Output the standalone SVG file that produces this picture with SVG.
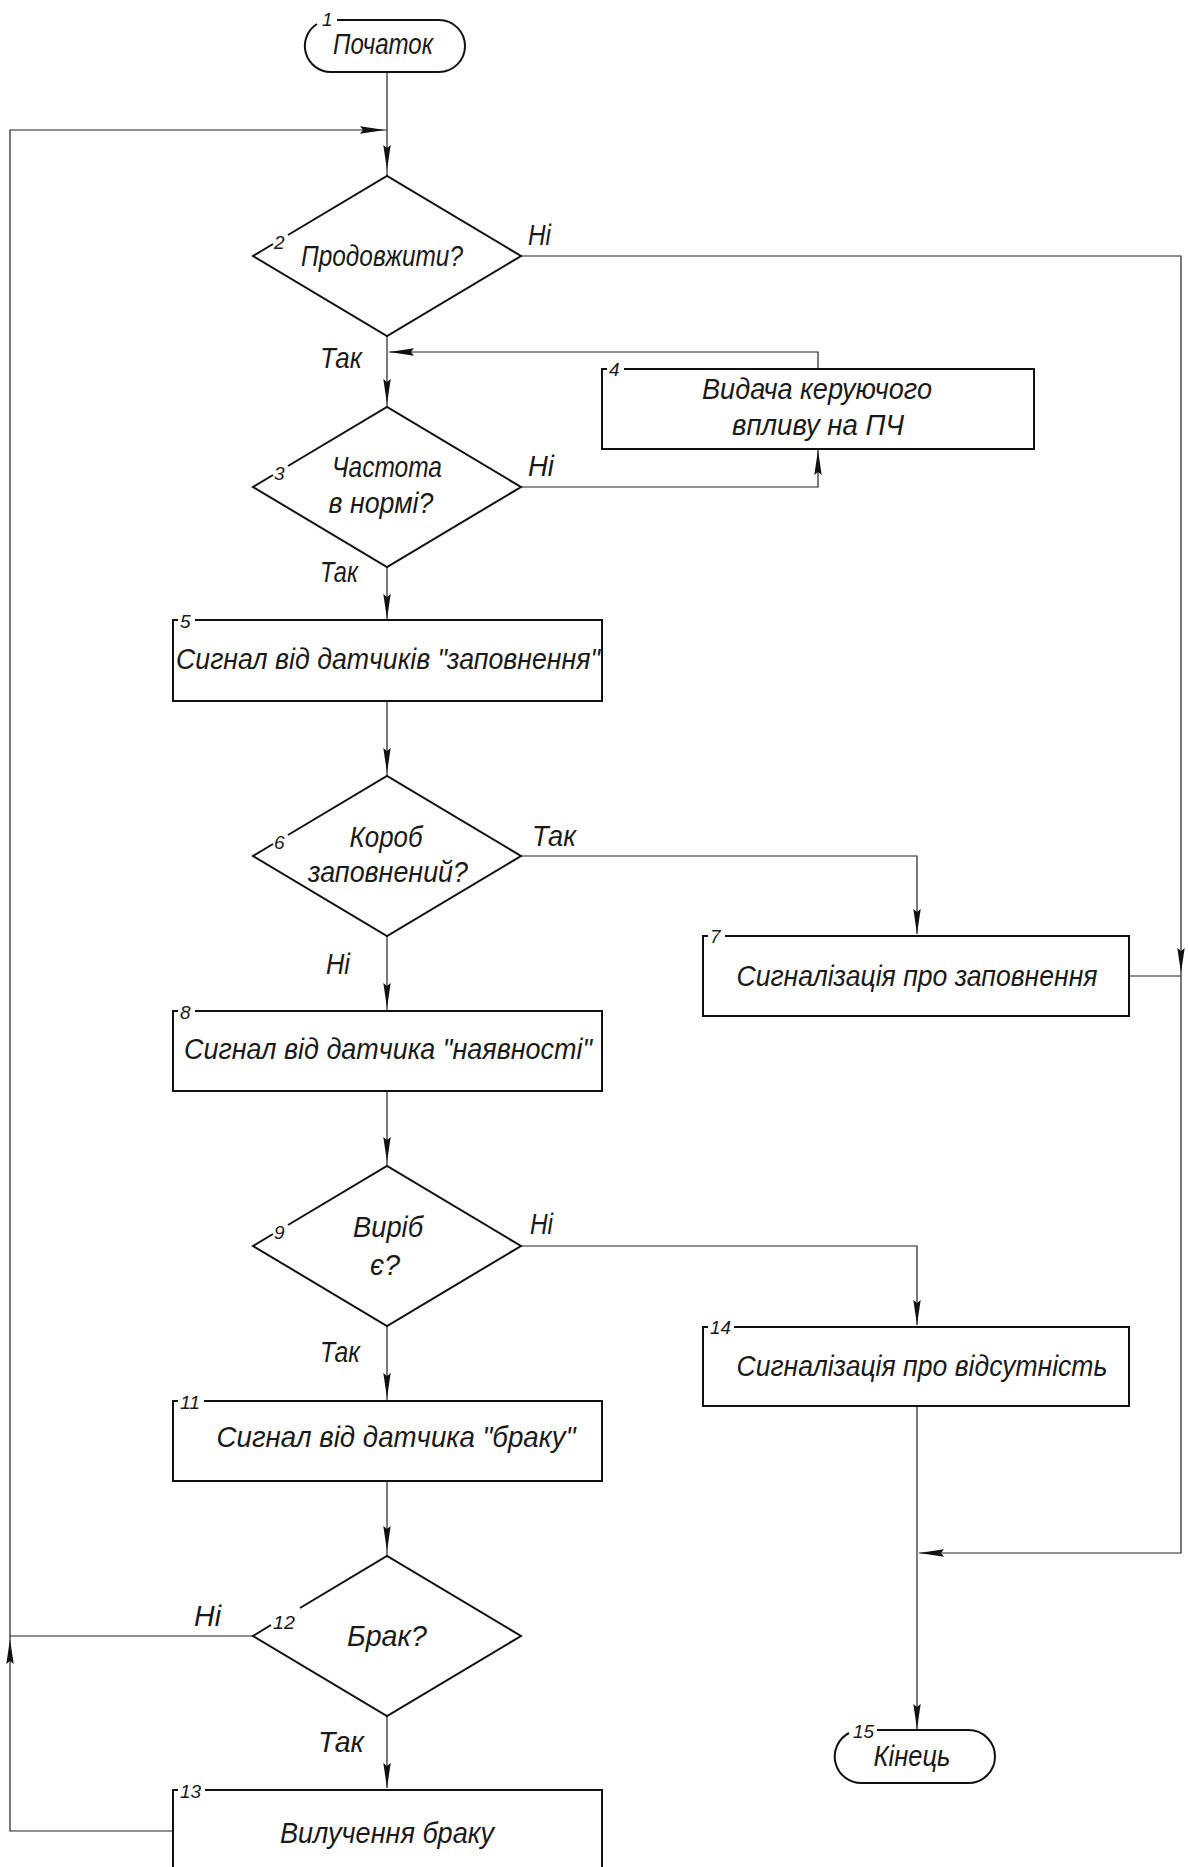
<svg xmlns="http://www.w3.org/2000/svg" width="1188" height="1867" viewBox="0 0 1188 1867">
<style>
.shape{fill:none;stroke:#111;stroke-width:2}
.conn{fill:none;stroke:#222;stroke-width:1.2}
.t{font-family:"Liberation Sans",Arial,sans-serif;font-style:italic;font-size:30px;fill:#1a1a1a}
.c{text-anchor:middle}
.n{font-family:"Liberation Sans",Arial,sans-serif;font-style:italic;font-size:19px;fill:#1a1a1a}
</style>
<defs>
<marker id="arr" markerUnits="userSpaceOnUse" markerWidth="26" markerHeight="10" refX="25" refY="5" orient="auto">
<path d="M0,1.3 L25,5 L0,8.7 L3,5 Z" fill="#111"/>
</marker>
</defs>
<rect width="1188" height="1867" fill="#fff"/>

<g id="connectors">
<path class="conn" d="M387,73 V170" marker-end="url(#arr)"/>
<path class="conn" d="M387,170 V176"/>
<path class="conn" d="M521,256 H1181 V973" marker-end="url(#arr)"/>
<path class="conn" d="M1181,973 V1553 H919" marker-end="url(#arr)"/>
<path class="conn" d="M1129,976 H1181"/>
<path class="conn" d="M387,336 V404" marker-end="url(#arr)"/>
<path class="conn" d="M387,404 V407"/>
<path class="conn" d="M818,369 V352 H389" marker-end="url(#arr)"/>
<path class="conn" d="M521,487 H818 V450" marker-end="url(#arr)"/>
<path class="conn" d="M387,567 V619" marker-end="url(#arr)"/>
<path class="conn" d="M387,701 V773" marker-end="url(#arr)"/>
<path class="conn" d="M387,773 V776"/>
<path class="conn" d="M521,856 H917 V934" marker-end="url(#arr)"/>
<path class="conn" d="M387,936 V1008" marker-end="url(#arr)"/>
<path class="conn" d="M387,1008 V1011"/>
<path class="conn" d="M387,1091 V1162" marker-end="url(#arr)"/>
<path class="conn" d="M387,1162 V1166"/>
<path class="conn" d="M521,1246 H917 V1325" marker-end="url(#arr)"/>
<path class="conn" d="M387,1326 V1398" marker-end="url(#arr)"/>
<path class="conn" d="M387,1398 V1401"/>
<path class="conn" d="M387,1481 V1551" marker-end="url(#arr)"/>
<path class="conn" d="M387,1551 V1556"/>
<path class="conn" d="M387,1716 V1788" marker-end="url(#arr)"/>
<path class="conn" d="M917,1406 V1729" marker-end="url(#arr)"/>
<path class="conn" d="M253,1636 H10"/>
<path class="conn" d="M173,1831 H10 V1639" marker-end="url(#arr)"/>
<path class="conn" d="M10,1639 V130 H385" marker-end="url(#arr)"/>
<path class="conn" d="M385,130 H387"/>
<text class="t" x="528" y="245" textLength="23" lengthAdjust="spacingAndGlyphs">Ні</text>
<text class="t" x="320" y="368" textLength="42" lengthAdjust="spacingAndGlyphs">Так</text>
<text class="t" x="528" y="476" textLength="26" lengthAdjust="spacingAndGlyphs">Ні</text>
<text class="t" x="320" y="582" textLength="38" lengthAdjust="spacingAndGlyphs">Так</text>
<text class="t" x="532" y="846" textLength="44" lengthAdjust="spacingAndGlyphs">Так</text>
<text class="t" x="326" y="974" textLength="24" lengthAdjust="spacingAndGlyphs">Ні</text>
<text class="t" x="530" y="1234" textLength="23" lengthAdjust="spacingAndGlyphs">Ні</text>
<text class="t" x="320" y="1362" textLength="40" lengthAdjust="spacingAndGlyphs">Так</text>
<text class="t" x="194" y="1626" textLength="27" lengthAdjust="spacingAndGlyphs">Ні</text>
<text class="t" x="318" y="1752" textLength="46" lengthAdjust="spacingAndGlyphs">Так</text>
</g>

<g id="n1">
<path class="shape" d="M337,20 H439 A26,26 0 0 1 439,72 H331 A26,26 0 0 1 317,24"/>
<text class="n" x="322" y="26">1</text>
<text class="t c" x="383" y="54" textLength="100" lengthAdjust="spacingAndGlyphs">Початок</text>
</g>

<g id="n2">
<path class="shape" d="M288,235 L387,176 L521,256 L387,336 L253,256 L273,244"/>
<text class="n" x="274" y="249">2</text>
<text class="t c" x="382" y="266" textLength="162" lengthAdjust="spacingAndGlyphs">Продовжити?</text>
</g>

<g id="n3">
<path class="shape" d="M288,466 L387,407 L521,487 L387,567 L253,487 L273,475"/>
<text class="n" x="274" y="480">3</text>
<text class="t c" x="387" y="477" textLength="110" lengthAdjust="spacingAndGlyphs">Частота</text>
<text class="t c" x="381" y="513" textLength="105" lengthAdjust="spacingAndGlyphs">в нормі?</text>
</g>

<g id="n4">
<path class="shape" d="M624,369 H1034 V449 H602 V369 H607"/>
<text class="n" x="609" y="376">4</text>
<text class="t c" x="817" y="399" textLength="230" lengthAdjust="spacingAndGlyphs">Видача керуючого</text>
<text class="t c" x="818" y="435" textLength="172" lengthAdjust="spacingAndGlyphs">впливу на ПЧ</text>
</g>

<g id="n5">
<path class="shape" d="M195,620 H602 V701 H173 V620 H178"/>
<text class="n" x="180" y="628">5</text>
<text class="t c" x="388" y="669" textLength="424" lengthAdjust="spacingAndGlyphs">Сигнал від датчиків "заповнення"</text>
</g>

<g id="n6">
<path class="shape" d="M288,835 L387,776 L521,856 L387,936 L253,856 L273,844"/>
<text class="n" x="274" y="849">6</text>
<text class="t c" x="386" y="847" textLength="73" lengthAdjust="spacingAndGlyphs">Короб</text>
<text class="t c" x="388" y="882" textLength="160" lengthAdjust="spacingAndGlyphs">заповнений?</text>
</g>

<g id="n7">
<path class="shape" d="M725,936 H1129 V1016 H703 V936 H708"/>
<text class="n" x="710" y="943">7</text>
<text class="t c" x="917" y="986" textLength="361" lengthAdjust="spacingAndGlyphs">Сигналізація про заповнення</text>
</g>

<g id="n8">
<path class="shape" d="M195,1011 H602 V1091 H173 V1011 H178"/>
<text class="n" x="180" y="1019">8</text>
<text class="t c" x="388" y="1059" textLength="408" lengthAdjust="spacingAndGlyphs">Сигнал від датчика "наявності"</text>
</g>

<g id="n9">
<path class="shape" d="M288,1225 L387,1166 L521,1246 L387,1326 L253,1246 L273,1234"/>
<text class="n" x="274" y="1239">9</text>
<text class="t c" x="388" y="1237" textLength="70" lengthAdjust="spacingAndGlyphs">Виріб</text>
<text class="t c" x="385" y="1275" textLength="30" lengthAdjust="spacingAndGlyphs">є?</text>
</g>

<g id="n11">
<path class="shape" d="M204,1401 H602 V1481 H173 V1401 H178"/>
<text class="n" x="180" y="1409" textLength="20" lengthAdjust="spacingAndGlyphs">11</text>
<text class="t c" x="396" y="1447" textLength="359" lengthAdjust="spacingAndGlyphs">Сигнал від датчика "браку"</text>
</g>

<g id="n12">
<path class="shape" d="M300,1608 L387,1556 L521,1636 L387,1716 L253,1636 L271,1625"/>
<text class="n" x="273" y="1629" textLength="22" lengthAdjust="spacingAndGlyphs">12</text>
<text class="t c" x="387" y="1646" textLength="80" lengthAdjust="spacingAndGlyphs">Брак?</text>
</g>

<g id="n13">
<path class="shape" d="M205,1790 H602 V1890 H173 V1790 H178"/>
<text class="n" x="180" y="1798" textLength="21" lengthAdjust="spacingAndGlyphs">13</text>
<text class="t c" x="387" y="1843" textLength="214" lengthAdjust="spacingAndGlyphs">Вилучення браку</text>
</g>

<g id="n14">
<path class="shape" d="M734,1327 H1129 V1406 H703 V1327 H708"/>
<text class="n" x="710" y="1334" textLength="21" lengthAdjust="spacingAndGlyphs">14</text>
<text class="t c" x="922" y="1376" textLength="371" lengthAdjust="spacingAndGlyphs">Сигналізація про відсутність</text>
</g>

<g id="n15">
<path class="shape" d="M877,1730 H968.5 A26.5,26.5 0 0 1 968.5,1783 H861.5 A26.5,26.5 0 0 1 849,1733"/>
<text class="n" x="853" y="1738" textLength="21" lengthAdjust="spacingAndGlyphs">15</text>
<text class="t c" x="912" y="1766" textLength="77" lengthAdjust="spacingAndGlyphs">Кінець</text>
</g>
</svg>
